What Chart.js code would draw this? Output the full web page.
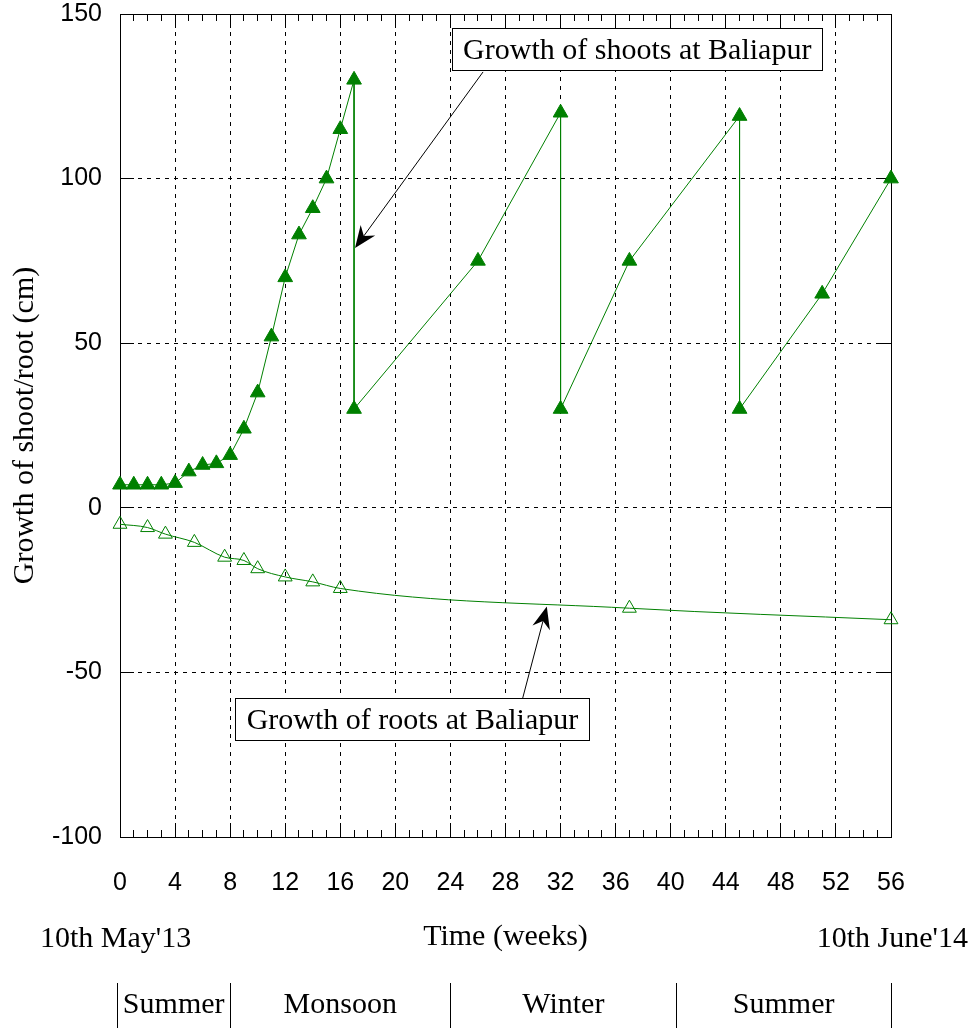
<!DOCTYPE html>
<html>
<head>
<meta charset="utf-8">
<title>Growth of shoot and root at Baliapur</title>
<script src="https://cdn.jsdelivr.net/npm/chart.js@4.4.0/dist/chart.umd.min.js"></script>
<style>
  html, body { margin: 0; padding: 0; background: #fff; }
  canvas { display: block; }
</style>
</head>
<body>
<canvas id="growthChart" width="972" height="1028"></canvas>
<script>
// shoot growth (cm), weeks from 10th May'13; drops are re-growth after cutting
var shootWeeks  = [0, 1, 2, 3, 4, 5, 6, 7, 8, 9, 10, 11, 12, 13, 14, 15, 16, 17, 17, 26, 32, 32, 37, 45, 45, 51, 56];
var shootGrowth = [7, 7, 7, 7, 7.5, 11, 13, 13.5, 16, 24, 35, 52, 70, 83, 91, 100, 115, 130, 30, 75, 120, 30, 75, 119, 30, 65, 100];

// root growth (cm), plotted downwards
var rootWeeks  = [0, 2, 3.3, 5.4, 7.6, 9, 10, 12, 14, 16, 37, 56];
var rootGrowth = [-5, -6, -8, -10.5, -15, -16, -18.5, -21, -22.5, -24.5, -30.5, -34];

var weekTicks   = [0, 4, 8, 12, 16, 20, 24, 28, 32, 36, 40, 44, 48, 52, 56];
var growthTicks = [-100, -50, 0, 50, 100, 150];

var seasonNames  = ['Summer', 'Monsoon', 'Winter', 'Summer'];
var seasonBounds = [-0.2, 8, 24, 40.4, 56];
var startDate = "10th May'13";
var endDate   = "10th June'14";

var green = '#008000';
var sans  = "'Liberation Sans', Arial, sans-serif";
var serif = "'Liberation Serif', 'Times New Roman', serif";

// labelled arrows, in week / cm coordinates
var notes = [
  { text: 'Growth of shoots at Baliapur', x: 37.57, y: 139.1, fromX: 26.37, fromY: 132.4, toX: 17.07, toY: 78.9 },
  { text: 'Growth of roots at Baliapur',  x: 21.24, y: -64.3, fromX: 29.25, fromY: -57.8, toX: 31.0,  toY: -30.0 }
];

function toPoints(xs, ys) {
  return xs.map(function (x, i) { return { x: x, y: ys[i] }; });
}

function crisp(p) {
  return Math.round(p - 0.5) + 0.5;
}

function drawArrow(ctx, x0, y0, x1, y1) {
  var ang = Math.atan2(y1 - y0, x1 - x0);
  var c = Math.cos(ang), s = Math.sin(ang);
  var headLen = 22, headHalf = 9, notch = 15;
  ctx.beginPath();
  ctx.moveTo(x0, y0);
  ctx.lineTo(x1 - notch * c, y1 - notch * s);
  ctx.stroke();
  var bx = x1 - headLen * c, by = y1 - headLen * s;
  ctx.beginPath();
  ctx.moveTo(x1, y1);
  ctx.lineTo(bx - s * headHalf, by + c * headHalf);
  ctx.lineTo(x1 - notch * c, y1 - notch * s);
  ctx.lineTo(bx + s * headHalf, by - c * headHalf);
  ctx.closePath();
  ctx.fill();
}

function drawNote(ctx, text, cx, cy) {
  ctx.font = '30px ' + serif;
  var w = Math.round(ctx.measureText(text).width + 22), h = 42;
  var x = crisp(cx - w / 2), y = crisp(cy - h / 2);
  ctx.fillStyle = '#fff';
  ctx.fillRect(x, y, w, h);
  ctx.strokeRect(x, y, w, h);
  ctx.fillStyle = '#000';
  ctx.textAlign = 'center';
  ctx.textBaseline = 'alphabetic';
  ctx.fillText(text, cx, y + 30);
}

// frame with inward ticks, notes, dates and the season strip
var extras = {
  id: 'extras',
  beforeDatasetsDraw: function (chart) {
    var ctx = chart.ctx, a = chart.chartArea;
    var xs = chart.scales.x, ys = chart.scales.y;
    ctx.save();
    ctx.strokeStyle = '#000';
    ctx.lineWidth = 1;
    ctx.beginPath();
    for (var w = 0; w <= 56; w++) {
      var px = crisp(xs.getPixelForValue(w));
      var len = (w % 4 === 0) ? 14 : 7;
      ctx.moveTo(px, a.bottom); ctx.lineTo(px, a.bottom - len);
      ctx.moveTo(px, a.top);    ctx.lineTo(px, a.top + len);
    }
    growthTicks.forEach(function (v) {
      var py = crisp(ys.getPixelForValue(v));
      ctx.moveTo(a.left, py);  ctx.lineTo(a.left + 14, py);
      ctx.moveTo(a.right, py); ctx.lineTo(a.right - 14, py);
    });
    ctx.stroke();
    ctx.strokeRect(crisp(a.left), crisp(a.top), Math.round(a.right - a.left), Math.round(a.bottom - a.top));
    ctx.restore();
  },
  afterDatasetsDraw: function (chart) {
    var ctx = chart.ctx;
    var xs = chart.scales.x, ys = chart.scales.y;
    ctx.save();
    ctx.strokeStyle = '#000';
    ctx.fillStyle = '#000';
    ctx.lineWidth = 1;

    notes.forEach(function (n) {
      drawArrow(ctx,
        xs.getPixelForValue(n.fromX), ys.getPixelForValue(n.fromY),
        xs.getPixelForValue(n.toX), ys.getPixelForValue(n.toY));
      drawNote(ctx, n.text, xs.getPixelForValue(n.x), ys.getPixelForValue(n.y));
    });

    ctx.font = '30px ' + serif;
    ctx.fillStyle = '#000';
    ctx.textBaseline = 'alphabetic';
    ctx.textAlign = 'left';
    ctx.fillText(startDate, 40, 947);
    ctx.textAlign = 'right';
    ctx.fillText(endDate, 968, 947);

    ctx.beginPath();
    seasonBounds.forEach(function (b) {
      var px = crisp(xs.getPixelForValue(b));
      ctx.moveTo(px, 983);
      ctx.lineTo(px, 1028);
    });
    ctx.stroke();
    ctx.textAlign = 'center';
    seasonNames.forEach(function (name, i) {
      var mid = (xs.getPixelForValue(seasonBounds[i]) + xs.getPixelForValue(seasonBounds[i + 1])) / 2;
      ctx.fillText(name, mid, 1013);
    });
    ctx.restore();
  }
};

var ctx = document.getElementById('growthChart').getContext('2d');

var growthChart = new Chart(ctx, {
  type: 'line',
  data: {
    datasets: [{
      label: 'Growth of shoots at Baliapur',
      data: toPoints(shootWeeks, shootGrowth),
      borderColor: green,
      borderWidth: 1,
      tension: 0,
      pointStyle: 'triangle',
      pointRadius: 8.5,
      pointBackgroundColor: green,
      pointBorderColor: green,
      pointBorderWidth: 1,
      clip: false
    },
    {
      label: 'Growth of roots at Baliapur',
      data: toPoints(rootWeeks, rootGrowth),
      borderColor: green,
      borderWidth: 1,
      cubicInterpolationMode: 'monotone',
      tension: 0.4,
      pointStyle: 'triangle',
      pointRadius: 8,
      pointBackgroundColor: 'rgba(0,0,0,0)',
      pointBorderColor: green,
      pointBorderWidth: 1,
      clip: false
    }]
  },
  options: {
    responsive: false,
    animation: false,
    events: [],
    layout: { padding: { left: 0, right: 81, top: 14, bottom: 0 } },
    plugins: {
      legend: { display: false },
      tooltip: { enabled: false }
    },
    scales: {
      x: {
        type: 'linear',
        min: 0,
        max: 56,
        afterBuildTicks: function (scale) {
          scale.ticks = weekTicks.map(function (v) { return { value: v }; });
        },
        afterFit: function (scale) {
          scale.height = 191;
          scale.paddingLeft = 0;
          scale.paddingRight = 0;
        },
        grid: { color: '#000', lineWidth: 1, drawTicks: false },
        border: { display: false, dash: [4, 5] },
        ticks: { color: '#000', padding: 34, maxRotation: 0, autoSkip: false, font: { family: sans, size: 25, lineHeight: 1 } },
        title: {
          display: true,
          text: 'Time (weeks)',
          color: '#000',
          font: { family: serif, size: 30, lineHeight: 1.2 },
          padding: { top: 0, bottom: 73 }
        }
      },
      y: {
        type: 'linear',
        min: -100,
        max: 150,
        afterBuildTicks: function (scale) {
          scale.ticks = growthTicks.map(function (v) { return { value: v }; });
        },
        afterFit: function (scale) {
          scale.width = 120;
          scale.paddingTop = 0;
          scale.paddingBottom = 0;
        },
        grid: { color: '#000', lineWidth: 1, drawTicks: false },
        border: { display: false, dash: [4, 5] },
        ticks: { color: '#000', padding: 18, font: { family: sans, size: 25, lineHeight: 1 } },
        title: {
          display: true,
          text: 'Growth of shoot/root (cm)',
          color: '#000',
          font: { family: serif, size: 30, lineHeight: 1.2 },
          padding: { top: 7, bottom: 0 }
        }
      }
    }
  },
  plugins: [extras]
});
</script>
</body>
</html>
